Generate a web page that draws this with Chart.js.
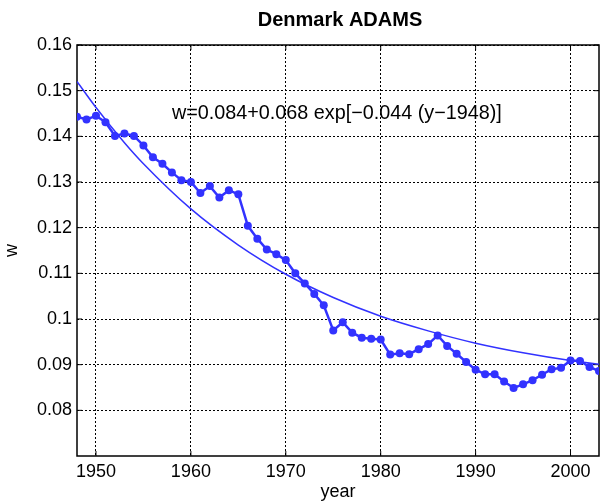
<!DOCTYPE html>
<html>
<head>
<meta charset="utf-8">
<title>Denmark ADAMS</title>
<script src="https://cdn.jsdelivr.net/npm/chart.js@4.4.0/dist/chart.umd.min.js"></script>
<style>
  body { margin: 0; background: #fff; }
  canvas { display: block; }
</style>
</head>
<body>
<canvas id="wChart" width="600" height="502"></canvas>
<script>
// yearly w values
const years = [1948, 1949, 1950, 1951, 1952, 1953, 1954, 1955, 1956, 1957,
  1958, 1959, 1960, 1961, 1962, 1963, 1964, 1965, 1966, 1967,
  1968, 1969, 1970, 1971, 1972, 1973, 1974, 1975, 1976, 1977,
  1978, 1979, 1980, 1981, 1982, 1983, 1984, 1985, 1986, 1987,
  1988, 1989, 1990, 1991, 1992, 1993, 1994, 1995, 1996, 1997,
  1998, 1999, 2000, 2001, 2002, 2003];
const wValues = [0.1443, 0.1437, 0.1445, 0.1431, 0.1401, 0.1406, 0.1401, 0.1380, 0.1354, 0.1340,
  0.1321, 0.1304, 0.1300, 0.1276, 0.1291, 0.1266, 0.1282, 0.1273, 0.1204, 0.1176,
  0.1152, 0.1142, 0.1129, 0.1100, 0.1078, 0.1055, 0.1030, 0.0975, 0.0993, 0.0970,
  0.0959, 0.0957, 0.0955, 0.0922, 0.0925, 0.0923, 0.0934, 0.0945, 0.0964, 0.0941,
  0.0924, 0.0906, 0.0889, 0.0879, 0.0879, 0.0863, 0.0849, 0.0857, 0.0866, 0.0878,
  0.0890, 0.0893, 0.0909, 0.0908, 0.0895, 0.0886];

// fitted curve, sampled
const fitYears = [1948, 1950, 1953, 1955, 1960, 1965, 1970, 1975, 1980, 1985, 1990, 1995, 2000, 2003];
const fitValues = [0.1520, 0.1463, 0.1386, 0.1340, 0.1241, 0.1162, 0.1098, 0.1047, 0.1006, 0.0974, 0.0947, 0.0926, 0.0909, 0.0901];

const xTicks = [1950, 1960, 1970, 1980, 1990, 2000];
const yTicks = [0.08, 0.09, 0.1, 0.11, 0.12, 0.13, 0.14, 0.15, 0.16];
const yTickLabels = ['0.08', '0.09', '0.1', '0.11', '0.12', '0.13', '0.14', '0.15', '0.16'];

const fitText = 'w=0.084+0.068 exp[\u22120.044 (y\u22121948)]';

const BLUE = 'rgb(50,50,255)';
const FONT = "'Liberation Sans', Arial, Helvetica, sans-serif";

Chart.defaults.font.family = FONT;
Chart.defaults.color = '#000';

// box, inward ticks and all the free text
const frame = {
  id: 'frame',
  beforeDatasetsDraw(chart) {
    const { ctx, chartArea: a, scales } = chart;
    ctx.save();
    ctx.strokeStyle = '#000';
    ctx.lineWidth = 1.5;
    ctx.strokeRect(a.left, a.top, a.right - a.left, a.bottom - a.top);
    ctx.lineWidth = 1;
    ctx.beginPath();
    xTicks.forEach(v => {
      const x = scales.x.getPixelForValue(v);
      ctx.moveTo(x, a.bottom); ctx.lineTo(x, a.bottom - 5);
      ctx.moveTo(x, a.top); ctx.lineTo(x, a.top + 5);
    });
    yTicks.forEach(v => {
      const y = scales.y.getPixelForValue(v);
      ctx.moveTo(a.left, y); ctx.lineTo(a.left + 5, y);
      ctx.moveTo(a.right, y); ctx.lineTo(a.right - 5, y);
    });
    ctx.stroke();
    ctx.restore();
  },
  afterDraw(chart) {
    const { ctx, chartArea: a, scales } = chart;
    const cx = (a.left + a.right) / 2;
    ctx.save();
    ctx.fillStyle = '#000';
    ctx.textAlign = 'center';
    ctx.textBaseline = 'middle';

    ctx.font = 'bold 20px ' + FONT;
    ctx.fillText('Denmark ADAMS', cx + 2, 20);

    ctx.font = '18px ' + FONT;
    ctx.fillText('year', cx, 492);

    ctx.save();
    ctx.translate(12, (a.top + a.bottom) / 2);
    ctx.rotate(-Math.PI / 2);
    ctx.fillText('w', 0, 0);
    ctx.restore();

    ctx.font = '19.8px ' + FONT;
    ctx.textAlign = 'left';
    ctx.fillText(fitText, scales.x.getPixelForValue(1958), scales.y.getPixelForValue(0.145));
    ctx.restore();
  }
};

const gridStyle = {
  color: '#000',
  lineWidth: 1,
  drawTicks: false
};

new Chart(document.getElementById('wChart'), {
  type: 'line',
  data: {
    datasets: [
      {
        label: 'w',
        data: years.map((y, i) => ({ x: y, y: wValues[i] })),
        borderColor: BLUE,
        backgroundColor: BLUE,
        borderWidth: 2.5,
        pointRadius: 4,
        pointBorderWidth: 0,
        tension: 0
      },
      {
        label: 'fit',
        data: fitYears.map((y, i) => ({ x: y, y: fitValues[i] })),
        borderColor: BLUE,
        borderWidth: 1.5,
        pointRadius: 0,
        cubicInterpolationMode: 'monotone'
      }
    ]
  },
  options: {
    responsive: false,
    animation: false,
    events: [],
    layout: { autoPadding: false, padding: { top: 45, right: 1, left: 0, bottom: 0 } },
    plugins: {
      legend: { display: false },
      title: { display: false },
      tooltip: { enabled: false }
    },
    scales: {
      x: {
        type: 'linear',
        min: 1948,
        max: 2003,
        afterBuildTicks: s => { s.ticks = xTicks.map(v => ({ value: v })); },
        afterFit: s => { s.height = 46; },
        grid: gridStyle,
        border: { display: false, dash: [2, 2] },
        ticks: {
          font: { size: 18 },
          padding: 5,
          maxRotation: 0,
          autoSkip: false,
          callback: v => String(v)
        }
      },
      y: {
        type: 'linear',
        min: 0.07,
        max: 0.16,
        afterBuildTicks: s => { s.ticks = yTicks.map(v => ({ value: v })); },
        afterFit: s => { s.width = 77; },
        grid: gridStyle,
        border: { display: false, dash: [2, 2] },
        ticks: {
          font: { size: 18 },
          padding: 5,
          autoSkip: false,
          callback: v => yTickLabels[yTicks.indexOf(v)]
        }
      }
    }
  },
  plugins: [frame]
});
</script>
</body>
</html>
